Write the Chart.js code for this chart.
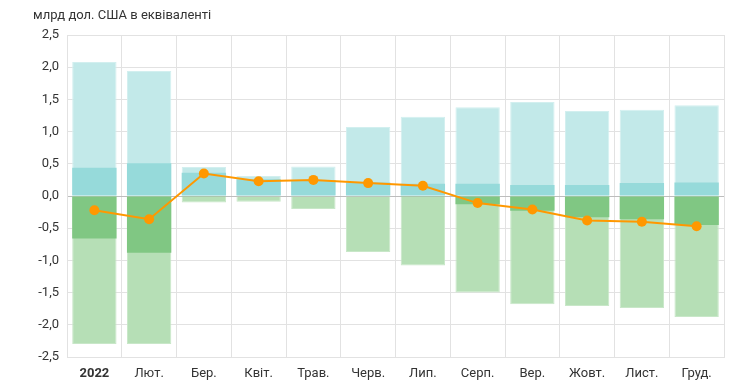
<!DOCTYPE html>
<html>
<head>
<meta charset="utf-8">
<script src="https://cdn.jsdelivr.net/npm/chart.js@4/dist/chart.umd.min.js"></script>
<style>
html,body{margin:0;padding:0;background:#fff;}
#wrap{width:740px;height:386px;position:relative;}
</style>
</head>
<body>
<div id="wrap"><canvas id="c" width="740" height="386"></canvas></div>
<script>
const categories = ['2022','Лют.','Бер.','Квіт.','Трав.','Черв.','Лип.','Серп.','Вер.','Жовт.','Лист.','Груд.'];
const posTotal = [2.08,1.94,0.45,0.31,0.46,1.07,1.23,1.38,1.46,1.32,1.34,1.41];
const posCore  = [0.44,0.51,0.36,0.26,0.25,0.21,0.19,0.19,0.17,0.17,0.20,0.21];
const negTotal = [-2.30,-2.30,-0.10,-0.09,-0.20,-0.87,-1.08,-1.50,-1.68,-1.71,-1.74,-1.88];
const negCore  = [-0.66,-0.88,-0.01,0,0,0,-0.01,-0.13,-0.23,-0.33,-0.36,-0.45];
const balance  = [-0.22,-0.36,0.35,0.23,0.25,0.20,0.16,-0.11,-0.21,-0.38,-0.40,-0.47];
const yTicks = [-2.5,-2.0,-1.5,-1.0,-0.5,0,0.5,1.0,1.5,2.0,2.5];
const titleText = 'млрд дол. США в еквіваленті';

const FONT = 'Roboto, "Noto Sans", sans-serif';

const titlePlugin = {
  id: 'topTitle',
  afterDraw(chart) {
    const ctx = chart.ctx;
    ctx.save();
    ctx.font = '13px ' + FONT;
    ctx.fillStyle = '#333';
    ctx.textBaseline = 'middle';
    ctx.textAlign = 'left';
    ctx.fillText(titleText, 33, 16);
    ctx.restore();
  }
};

new Chart(document.getElementById('c'), {
  data: {
    labels: categories,
    datasets: [
      { type: 'line', data: balance, borderColor: '#ff9800', backgroundColor: '#ff9800',
        borderWidth: 2, pointRadius: 5, pointHoverRadius: 5, pointBorderWidth: 0, order: 0, tension: 0 },
      { type: 'bar', data: posCore, backgroundColor: '#96dada', borderColor: 'rgba(170,226,226,1)', borderWidth: 0, order: 1 },
      { type: 'bar', data: negCore, backgroundColor: '#80c783', borderColor: 'rgba(150,210,150,1)', borderWidth: 0, order: 1 },
      { type: 'bar', data: posTotal, backgroundColor: '#c2e9e9', borderColor: '#d2efef', borderWidth: 1, order: 2 },
      { type: 'bar', data: negTotal, backgroundColor: '#b6dfb6', borderColor: '#c8e7c8', borderWidth: 1, order: 2 }
    ]
  },
  options: {
    responsive: false,
    animation: false,
    layout: { padding: { left: 33, right: 16, top: 35, bottom: 0 } },
    plugins: { legend: { display: false }, tooltip: { enabled: false }, title: { display: false } },
    datasets: { bar: { categoryPercentage: 0.9, barPercentage: 0.9 } },
    scales: {
      x: {
        stacked: true,
        offset: true,
        grid: { offset: true, color: '#e2e2e2', drawTicks: false },
        border: { color: '#e2e2e2' },
        afterFit(s) { s.height = 29; },
        ticks: {
          padding: 9,
          color: '#333',
          font: (c) => ({ family: FONT, size: 13, weight: c.index === 0 ? 'bold' : 'normal' })
        }
      },
      y: {
        stacked: false,
        min: -2.5, max: 2.5,
        afterBuildTicks(s) { s.ticks = yTicks.map(v => ({ value: v })); },
        afterFit(s) { s.width = 34; },
        grid: {
          drawTicks: false,
          color: (c) => (c.tick && c.tick.value === 0) ? '#bdbdbd' : '#e2e2e2'
        },
        border: { color: '#e2e2e2' },
        ticks: {
          padding: 8,
          color: '#333',
          font: { family: FONT, size: 13 },
          callback: (v) => Number(v).toFixed(1).replace('.', ',')
        }
      }
    }
  },
  plugins: [titlePlugin]
});
</script>
</body>
</html>
